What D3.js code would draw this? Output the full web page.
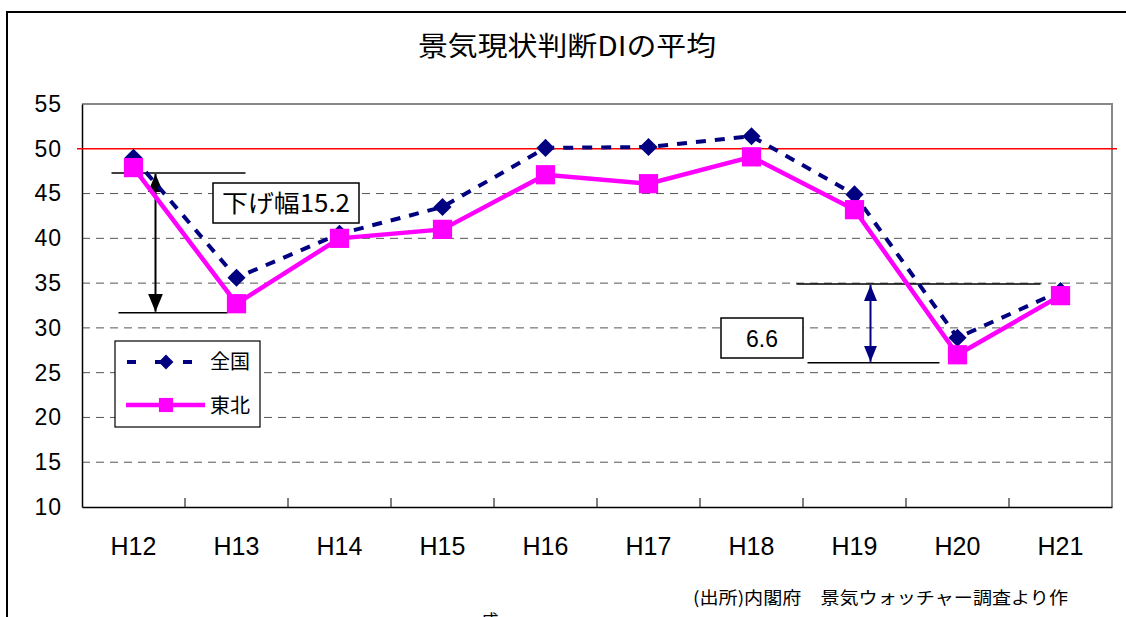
<!DOCTYPE html>
<html><head><meta charset="utf-8">
<script src="https://cdn.jsdelivr.net/npm/d3@7"></script>
<style>body{margin:0;background:#fff;overflow:hidden}svg{display:block}</style>
</head><body>
<svg id="c" width="1126" height="617"></svg>
<script>
const categories = ["H12","H13","H14","H15","H16","H17","H18","H19","H20","H21"];
const zenkoku = [49.0,35.6,40.5,43.5,50.1,50.2,51.4,44.9,28.9,34.1];
const tohoku  = [47.9,32.7,40.0,41.0,47.1,46.1,49.1,43.2,27.0,33.6];
const yTicks = [10,15,20,25,30,35,40,45,50,55];
const seriesNames = ["全国","東北"];
const title = "景気現状判断DIの平均";
const source = "(出所)内閣府　景気ウォッチャー調査より作";
const note1 = "下げ幅15.2";
const note2 = "6.6";

const svg = d3.select("#c");
const L=82,R=1112,T=104,B=507;
const x = d3.scaleBand().domain(categories).range([L,R]);
const cx = c => x(c)+x.bandwidth()/2;
const y = d3.scaleLinear().domain([10,55]).range([B,T]);
const jp = "'Noto Sans CJK JP','Noto Sans',sans-serif";
const num = "'Liberation Sans',Arial,sans-serif";

// outer border
svg.append("rect").attr("x",7).attr("y",12).attr("width",1200).attr("height",700)
  .attr("fill","#fff").attr("stroke","#000").attr("stroke-width",2);

// title
svg.append("text").attr("x",567).attr("y",56).attr("text-anchor","middle")
  .attr("font-family",jp).attr("font-size",27).attr("textLength",298).attr("lengthAdjust","spacingAndGlyphs")
  .text(title);

// gridlines
svg.append("g").selectAll("line").data(yTicks.filter(v=>v>10&&v<55&&v!==50)).join("line")
  .attr("x1",L).attr("x2",R).attr("y1",d=>y(d)).attr("y2",d=>y(d))
  .attr("stroke","#555").attr("stroke-width",1).attr("stroke-dasharray","8,6");

// frame top/right gray
svg.append("path").attr("d",`M${L},${T}H${R}V${B}`).attr("fill","none").attr("stroke","#888").attr("stroke-width",2);

// y axis
const ya = svg.append("g").attr("transform",`translate(${L},0)`)
  .call(d3.axisLeft(y).tickValues(yTicks).tickSize(0).tickPadding(20));
ya.select(".domain").attr("stroke","#000").attr("stroke-width",1.5);
ya.selectAll("text").attr("font-family",num).attr("font-size",23).attr("letter-spacing",1).attr("fill","#000");

// x axis
const xa = svg.append("g").attr("transform",`translate(0,${B})`)
  .call(d3.axisBottom(x).tickSize(0).tickPadding(30));
xa.select(".domain").attr("stroke","#000").attr("stroke-width",1.5);
xa.selectAll("text").attr("font-family",num).attr("font-size",25).attr("fill","#000");
svg.append("g").selectAll("line").data(categories.slice(1)).join("line")
  .attr("x1",d=>x(d)).attr("x2",d=>x(d)).attr("y1",B).attr("y2",B-9).attr("stroke","#000").attr("stroke-width",1);

// red line at 50
svg.append("line").attr("x1",L-5).attr("x2",R+5).attr("y1",y(50)).attr("y2",y(50))
  .attr("stroke","#ff0000").attr("stroke-width",1.5);

// annotations
const defs = svg.append("defs");
function marker(id,color,w,h){
  defs.append("marker").attr("id",id).attr("viewBox",`0 0 ${h} ${w}`).attr("refX",h).attr("refY",w/2)
   .attr("markerWidth",h).attr("markerHeight",w).attr("markerUnits","userSpaceOnUse").attr("orient","auto-start-reverse")
   .append("path").attr("d",`M0,0L${h},${w/2}L0,${w}Z`).attr("fill",color);
}
marker("ab","#000",15,18);
marker("an","#000080",13,16);

const a1x = cx("H12")+22;
svg.append("line").attr("x1",cx("H12")-22).attr("x2",cx("H13")+9).attr("y1",y(47.3)).attr("y2",y(47.3)).attr("stroke","#000").attr("stroke-width",1.5);
svg.append("line").attr("x1",cx("H12")-15).attr("x2",cx("H13")-9).attr("y1",y(31.7)).attr("y2",y(31.7)).attr("stroke","#000").attr("stroke-width",1.5);
svg.append("line").attr("x1",a1x).attr("x2",a1x).attr("y1",y(47.3)+1).attr("y2",y(31.7)-1)
  .attr("stroke","#000").attr("stroke-width",2).attr("marker-start","url(#ab)").attr("marker-end","url(#ab)");
svg.append("rect").attr("x",213).attr("y",183).attr("width",146).attr("height",40).attr("fill","#fff").attr("stroke","#000").attr("stroke-width",1.5);
svg.append("text").attr("x",286).attr("y",212).attr("text-anchor","middle").attr("font-family",jp).attr("font-size",24)
  .attr("textLength",128).attr("lengthAdjust","spacingAndGlyphs").text(note1);

const a2x = cx("H19")+16;
svg.append("line").attr("x1",cx("H19")-58).attr("x2",cx("H21")-20).attr("y1",y(34.9)).attr("y2",y(34.9)).attr("stroke","#000").attr("stroke-width",1.5);
svg.append("line").attr("x1",cx("H19")-47).attr("x2",cx("H20")-18).attr("y1",y(26.1)).attr("y2",y(26.1)).attr("stroke","#000").attr("stroke-width",1.5);
svg.append("line").attr("x1",a2x).attr("x2",a2x).attr("y1",y(34.9)+1).attr("y2",y(26.1)-1)
  .attr("stroke","#000080").attr("stroke-width",2).attr("marker-start","url(#an)").attr("marker-end","url(#an)");
svg.append("rect").attr("x",721).attr("y",318).attr("width",82).attr("height",40).attr("fill","#fff").attr("stroke","#000").attr("stroke-width",1.5);
svg.append("text").attr("x",762).attr("y",347).attr("text-anchor","middle").attr("font-family",num).attr("font-size",23).text(note2);

// series
const line = d3.line().x((d,i)=>cx(categories[i])).y(d=>y(d));
svg.append("path").datum(zenkoku).attr("d",line).attr("fill","none").attr("stroke","#000080")
  .attr("stroke-width",4).attr("stroke-dasharray","10,9");
const sqDia = d3.symbol().type(d3.symbolSquare);
svg.append("g").selectAll("path").data(zenkoku).join("path")
  .attr("d",sqDia.size(165)()).attr("fill","#000080")
  .attr("transform",(d,i)=>`translate(${cx(categories[i])},${y(d)}) rotate(45)`);
svg.append("path").datum(tohoku).attr("d",line).attr("fill","none").attr("stroke","#ff00ff").attr("stroke-width",4.5);
svg.append("g").selectAll("path").data(tohoku).join("path")
  .attr("d",d3.symbol().type(d3.symbolSquare).size(370)()).attr("fill","#ff00ff")
  .attr("transform",(d,i)=>`translate(${cx(categories[i])},${y(d)})`);

// legend
const lg = svg.append("g");
lg.append("rect").attr("x",115).attr("y",341).attr("width",145).attr("height",86).attr("fill","#fff").attr("stroke","#000").attr("stroke-width",1.2);
lg.append("line").attr("x1",127).attr("x2",198).attr("y1",362).attr("y2",362).attr("stroke","#000080").attr("stroke-width",4).attr("stroke-dasharray","9,19");
lg.append("path").attr("d",d3.symbol().type(d3.symbolSquare).size(110)()).attr("fill","#000080").attr("transform","translate(166,362) rotate(45)");
lg.append("line").attr("x1",126).attr("x2",205).attr("y1",405).attr("y2",405).attr("stroke","#ff00ff").attr("stroke-width",4.5);
lg.append("path").attr("d",d3.symbol().type(d3.symbolSquare).size(200)()).attr("fill","#ff00ff").attr("transform","translate(166,405)");
lg.selectAll("text").data(seriesNames).join("text").attr("x",210).attr("y",(d,i)=>369+i*44)
  .attr("font-family",jp).attr("font-size",20).text(d=>d);

// source
svg.append("text").attr("x",693).attr("y",604).attr("font-family",jp).attr("font-size",17)
  .attr("textLength",375).attr("lengthAdjust","spacingAndGlyphs").text(source);
svg.append("text").attr("x",490).attr("y",627).attr("text-anchor","middle").attr("font-family",jp).attr("font-size",17).text("成");
</script>
</body></html>
